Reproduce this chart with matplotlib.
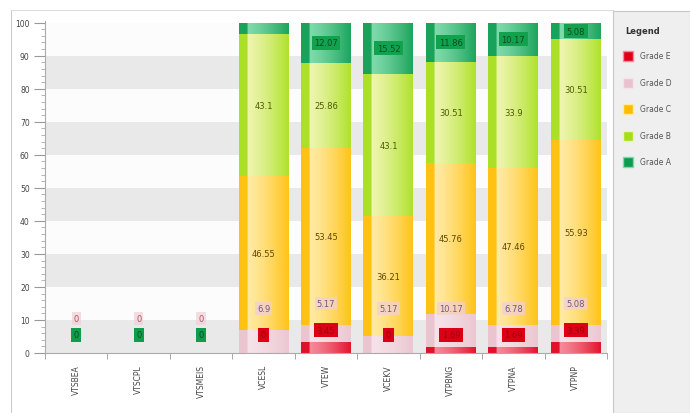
import numpy as np
import matplotlib
matplotlib.use("Agg")
import matplotlib.pyplot as plt
from matplotlib.colors import to_rgb
from matplotlib.patches import Rectangle
from matplotlib.lines import Line2D

# data
categories = ["VTSBEA", "VTSCPL", "VTSMEIS", "VCESL", "VTEW",
              "VCEKV", "VTPBNG", "VTPNA", "VTPNP"]
grade_e = [0, 0, 0, 0, 3.45, 0, 1.69, 1.69, 3.39]
grade_d = [0, 0, 0, 6.9, 5.17, 5.17, 10.17, 6.78, 5.08]
grade_c = [0, 0, 0, 46.55, 53.45, 36.21, 45.76, 47.46, 55.93]
grade_b = [0, 0, 0, 43.1, 25.86, 43.1, 30.51, 33.9, 30.51]
grade_a = [0, 0, 0, 3.45, 12.07, 15.52, 11.86, 10.17, 5.08]

series = [
    ("Grade E", grade_e, "#e0001a", "#f58a9a"),
    ("Grade D", grade_d, "#e9c2cd", "#f6e3e9"),
    ("Grade C", grade_c, "#ffbd00", "#ffeaa4"),
    ("Grade B", grade_b, "#a4de16", "#eef5ae"),
    ("Grade A", grade_a, "#0c9b4f", "#7fdaab"),
]


def gradient(sat, light, n=64):
    sat = np.array(to_rgb(sat))
    light = np.array(to_rgb(light))
    u = np.linspace(0, 1, n)
    t = np.where(u < 0.17, 0.12, 1 - 0.85 * ((u - 0.17) / 0.83) ** 1.3)
    t = np.clip(t, 0, 1)
    img = sat[None, :] * (1 - t[:, None]) + light[None, :] * t[:, None]
    return img[None, :, :]


fig = plt.figure(figsize=(6.9, 4.14), dpi=100)
fig.patch.set_facecolor("white")
ax = fig.add_axes([45 / 690, 60 / 414, 562 / 690, 332 / 414])

x = np.arange(len(categories))
width = 0.8

# alternating bands
for y0 in range(0, 100, 10):
    c = "#e9e9e9" if (y0 // 10) % 2 == 0 else "#fcfcfc"
    ax.axhspan(y0, y0 + 10, color=c, zorder=0, lw=0)

bottom = np.zeros(len(categories))
for name, vals, sat, light in series:
    vals = np.array(vals, dtype=float)
    bars = ax.bar(x, vals, width, bottom=bottom, color=sat, lw=0, zorder=2)
    img = gradient(sat, light)
    for p in bars.patches:
        if p.get_height() <= 0:
            continue
        x0, y0 = p.get_x(), p.get_y()
        im = ax.imshow(img, extent=[x0, x0 + p.get_width(), y0, y0 + p.get_height()],
                       aspect="auto", interpolation="bilinear", zorder=2.5)
        im.set_clip_path(p)
    bottom += vals

# data labels
lab = dict(fontsize=6, ha="center", va="center", zorder=5)
for i in range(len(categories)):
    e, d, c, b, a = grade_e[i], grade_d[i], grade_c[i], grade_b[i], grade_a[i]
    total = e + d + c + b + a
    ey = max(e + 3.5, 5.5)
    dy = ey + 8 if total > 0 else ey + 5
    ax.text(i, ey, f"{e:g}", color="#9a0010",
            bbox=dict(boxstyle="square,pad=0.3", fc="#dc0016", ec="none"), **lab)
    ax.text(i, dy, f"{d:g}", color="#6e5888" if total > 0 else "#a85858",
            bbox=dict(boxstyle="square,pad=0.25", fc="#f2cfd8", ec="none", alpha=0.7), **lab)
    if total == 0:
        ax.text(i, ey, f"{a:g}", color="#0b4a25",
                bbox=dict(boxstyle="square,pad=0.3", fc="#0f9d4c", ec="none"), **lab)
        continue
    ax.text(i, e + d + c / 2, f"{c:g}", color="#5e4600", **lab)
    ax.text(i, e + d + c + b / 2, f"{b:g}", color="#4c5c00", **lab)
    if a >= 4:
        ax.text(i, total - a / 2, f"{a:g}", color="#0b4a25",
                bbox=dict(boxstyle="square,pad=0.3", fc="#12a24e", ec="none"), **lab)

ax.set_xlim(-0.5, len(categories) - 0.5)
ax.set_ylim(0, 100.5)
ax.set_yticks(np.arange(0, 101, 10))
ax.set_yticks(np.arange(0, 101, 2), minor=True)
ax.set_xticks(x)
ax.set_xticklabels(categories, rotation=90, fontsize=5.5, color="#444444")
ax.set_xticks(np.arange(len(categories) + 1) - 0.5, minor=True)
ax.tick_params(axis="x", which="major", length=0, pad=8)
ax.tick_params(axis="x", which="minor", length=4, color="#999999")
ax.tick_params(axis="y", which="major", length=8, color="#999999", labelsize=5.5,
               labelcolor="#444444", pad=3)
ax.tick_params(axis="y", which="minor", length=3, color="#aaaaaa")
for s in ["top", "right"]:
    ax.spines[s].set_visible(False)
for s in ["left", "bottom"]:
    ax.spines[s].set_color("#aaaaaa")
    ax.spines[s].set_linewidth(0.8)

# frame and legend panel
fig.add_artist(Rectangle((613 / 690, 0), 77 / 690, 1 - 12 / 414, transform=fig.transFigure,
                         fc="#efefef", ec="#c8c8c8", lw=0.8))
fig.add_artist(Line2D([11 / 690, 11 / 690], [0, 1 - 11 / 414], transform=fig.transFigure,
                      color="#cccccc", lw=0.8))
fig.add_artist(Line2D([11 / 690, 613 / 690], [1 - 11 / 414, 1 - 11 / 414],
                      transform=fig.transFigure, color="#dddddd", lw=0.8))

fig.text(625 / 690, 1 - 32 / 414, "Legend", fontsize=6, fontweight="bold",
         color="#333333", va="center")
for k, (name, vals, sat, light) in enumerate(series):
    yc = 1 - (57 + 26.5 * k) / 414
    fig.add_artist(Rectangle((623 / 690, yc - 5 / 414), 10 / 690, 10 / 414,
                             transform=fig.transFigure, fc=sat, ec=light, lw=1))
    fig.text(640 / 690, yc, name, fontsize=5.5, color="#555555", va="center")

fig.savefig("out.png", dpi=100)
